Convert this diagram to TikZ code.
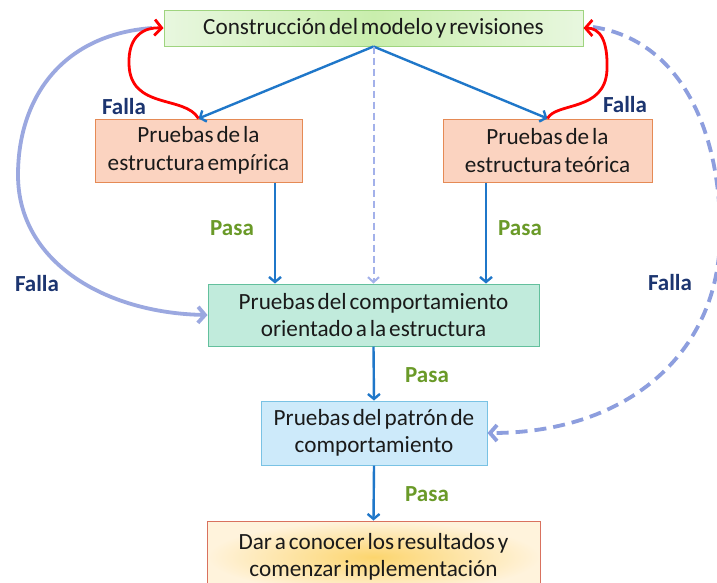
\documentclass[tikz,border=0pt]{standalone}
\usepackage{fontspec}
\setmainfont{Carlito}[WordSpace=0.55]
\usetikzlibrary{arrows.meta}
\definecolor{txt}{HTML}{1A1A1A}
\definecolor{topL}{HTML}{E8F7DF}
\definecolor{topM}{HTML}{C9EEAD}
\definecolor{topD}{HTML}{9FD47F}
\definecolor{salF}{HTML}{FBD3C0}
\definecolor{salD}{HTML}{E58A55}
\definecolor{grnF}{HTML}{C1EBDC}
\definecolor{grnD}{HTML}{63C09D}
\definecolor{bluF}{HTML}{CDEAFA}
\definecolor{bluD}{HTML}{79C2E4}
\definecolor{orgI}{HTML}{FCD56E}
\definecolor{orgO}{HTML}{FFF3DC}
\definecolor{orgD}{HTML}{D9715E}
\definecolor{flow}{HTML}{1F77C9}
\definecolor{arcc}{HTML}{9BA8E0}
\definecolor{dashc}{HTML}{8D9EDE}
\definecolor{vdash}{HTML}{A3B1EA}
\definecolor{falla}{HTML}{1C3570}
\definecolor{pasa}{HTML}{6A9A28}
\tikzset{
  box/.style={rectangle, draw, line width=1pt, align=center, text=txt,
    font=\fontsize{23.2}{27.5}\selectfont, inner sep=0pt},
  flowarrow/.style={draw=flow, line width=2.4pt, -{Straight Barb[length=5pt,width=12pt]}},
  redarrow/.style={draw=red, line width=2.8pt, -{Straight Barb[length=7pt,width=16pt]}},
  arcarrow/.style={draw=arcc, line width=3.8pt, -{Straight Barb[length=7pt,width=16pt]}},
  dasharrow/.style={draw=dashc, line width=3.8pt, dash pattern=on 12pt off 7pt, -{Straight Barb[length=7pt,width=16pt]}},
  vdasharrow/.style={draw=vdash, line width=2pt, dash pattern=on 7pt off 4pt, -{Straight Barb[length=5pt,width=11pt]}},
  fallalbl/.style={text=falla, font=\fontsize{23}{27}\selectfont\bfseries},
  pasalbl/.style={text=pasa, font=\fontsize{23}{27}\selectfont\bfseries},
}
\begin{document}
\begin{tikzpicture}[x=1pt,y=-1pt]
\useasboundingbox (0,0) rectangle (717,582);
\fill[white] (0,0) rectangle (717,582);

\node[box, draw=topD, left color=topL, right color=topL, middle color=topM,
  minimum width=419pt, minimum height=36pt] (top) at (373.5,28) {Construcción del modelo y revisiones};
\node[box, draw=salD, fill=salF, minimum width=207pt, minimum height=63pt] (emp) at (198.5,150.5) {Pruebas de la\\estructura empírica};
\node[box, draw=salD, fill=salF, minimum width=209pt, minimum height=63pt] (teo) at (547.5,150.5) {Pruebas de la\\estructura teórica};
\node[box, draw=grnD, fill=grnF, minimum width=331pt, minimum height=62pt] (comp) at (373.5,315) {Pruebas del comportamiento\\orientado a la estructura};
\node[box, draw=bluD, fill=bluF, minimum width=226pt, minimum height=64pt] (pat) at (374,433) {Pruebas del patrón de\\comportamiento};
\node[box, draw=orgD, inner color=orgI, outer color=orgO, minimum width=333pt, minimum height=72pt] (res) at (373.5,557) {Dar a conocer los resultados y\\comenzar implementación};

\coordinate (xl) at (275,0);
\coordinate (xr) at (486,0);

% blue flow arrows
\draw[flowarrow] (top.south) -- (emp.north);
\draw[flowarrow] (top.south) -- (teo.north);
\draw[vdasharrow] (top.south) -- (comp.north);
\draw[flowarrow] (emp.south -| xl) -- (comp.north -| xl);
\draw[flowarrow] (teo.south -| xr) -- (comp.north -| xr);
\draw[flowarrow] (comp.south) -- (pat.north);
\draw[flowarrow] (pat.south) -- (res.north);

% big arcs
\coordinate (arcL) at (152,28);
\draw[arcarrow] (arcL) .. controls (60,35) and (18,100) .. (18,175)
   .. controls (18,262) and (105,313) .. (comp.west);
\coordinate (arcR) at (593,27);
\draw[dasharrow] (arcR) .. controls (680,40) and (720,130) .. (720,230)
   .. controls (722,350) and (630,433) .. (pat.east);

% red arrows
\draw[redarrow] (emp.north) .. controls (185,95) and (130,110) .. (129,64)
   .. controls (128,35) and (145,27) .. (top.west);
\draw[redarrow] (teo.north) .. controls (556,102) and (605,112) .. (607,70)
   .. controls (608,40) and (600,28) .. (top.east);

% labels
\node[fallalbl] (f1) at (124,107) {Falla};
\node[fallalbl] (f2) at (625,105) {Falla};
\node[fallalbl] (f3) at (37,284) {Falla};
\node[fallalbl] (f4) at (670,283) {Falla};
\node[pasalbl] (p1) at (232,228) {Pasa};
\node[pasalbl] (p2) at (520,228) {Pasa};
\node[pasalbl] (p3) at (427,375) {Pasa};
\node[pasalbl] (p4) at (427,494) {Pasa};
\end{tikzpicture}
\end{document}
